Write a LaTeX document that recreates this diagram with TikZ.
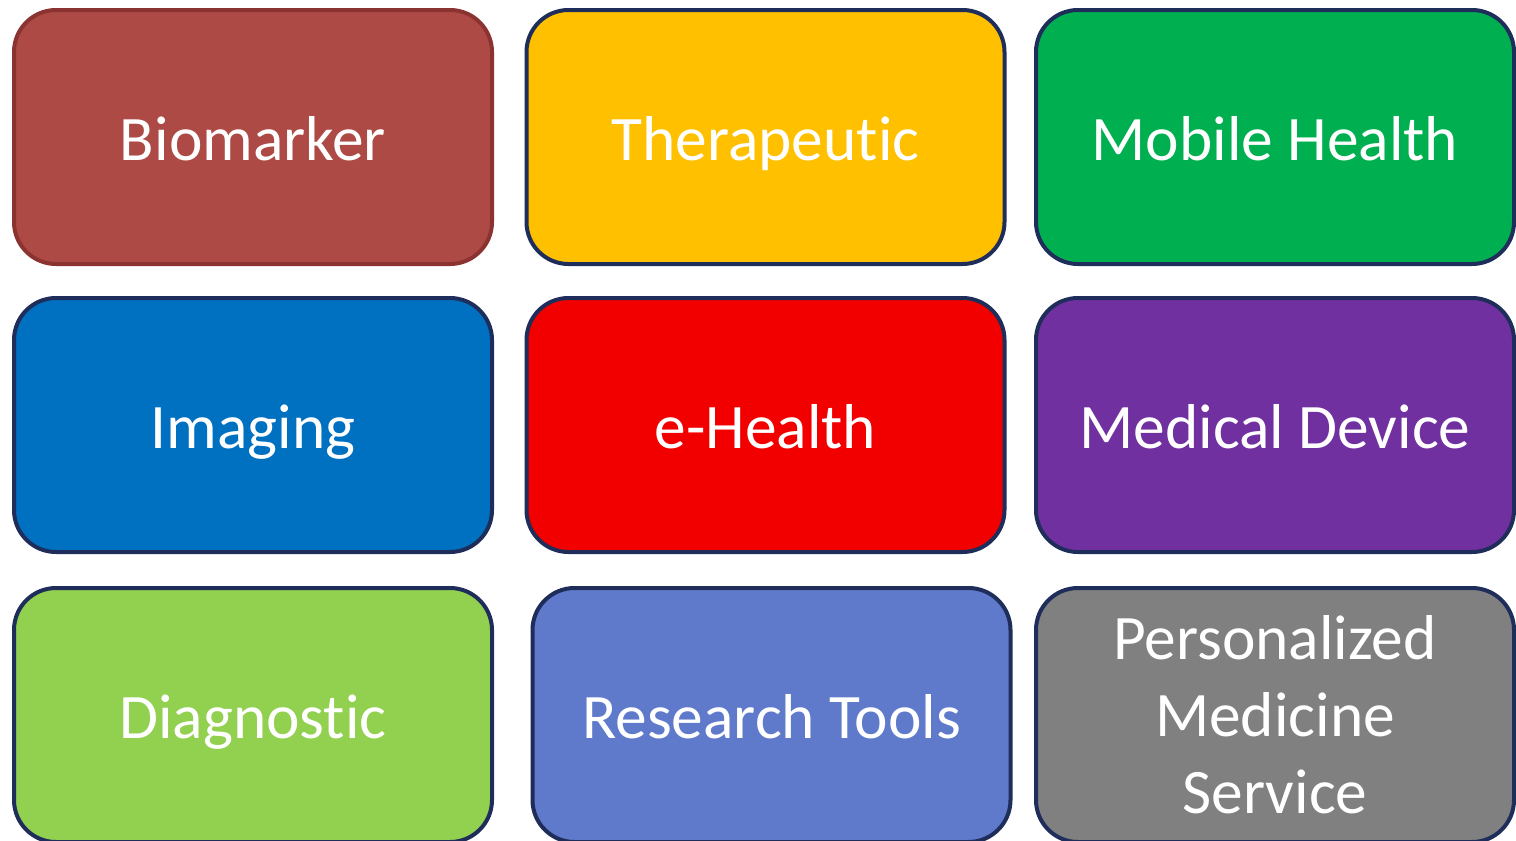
\documentclass[tikz,border=0pt]{standalone}
\usepackage{fontspec}
\setmainfont{Carlito}[Ligatures=NoCommon]
\usetikzlibrary{positioning}

\definecolor{bioFill}{HTML}{AD4A46}
\definecolor{bioLine}{HTML}{8B3330}
\definecolor{navyLine}{HTML}{1F2D5A}
\definecolor{therFill}{HTML}{FFC000}
\definecolor{mobFill}{HTML}{00B050}
\definecolor{imgFill}{HTML}{0070C0}
\definecolor{ehFill}{HTML}{F20000}
\definecolor{devFill}{HTML}{7030A0}
\definecolor{diagFill}{HTML}{92D050}
\definecolor{resFill}{HTML}{5F7ACB}
\definecolor{persFill}{HTML}{808080}

\tikzset{
  tile/.style={draw=navyLine, line width=2pt, rounded corners=21pt,
    minimum width=239pt, minimum height=127pt, inner sep=0pt,
    text=white, align=center,
    font=\fontsize{31.7}{38.5}\selectfont},
  oneline/.style={tile, text height=28pt, text depth=5pt},
}

\begin{document}
\begin{tikzpicture}[x=0.5pt, y=-0.5pt]
        \useasboundingbox (0,0) rectangle (1516,841);
        % first row
        \node[oneline, fill=bioFill, draw=bioLine] (biomarker) at (253,137) {Biomarker};
        \node[oneline, fill=therFill] (therapeutic) at (765.5,137) {Therapeutic};
        \node[oneline, fill=mobFill] (mobile) at (1275,137) {Mobile Health};
        % second row
        \node[oneline, fill=imgFill] (imaging) at (253,425) {Imaging};
        \node[oneline, fill=ehFill] (ehealth) at (765.5,425) {e-Health};
        \node[oneline, fill=devFill] (device) at (1275,425) {Medical Device};
        % third row
        \node[oneline, fill=diagFill] (diagnostic) at (253,715) {Diagnostic};
        \node[oneline, fill=resFill] (research) at (771.5,715) {Research Tools};
        \node[tile, fill=persFill] (personal) at (1275,715) {Personalized\\Medicine\\Service};
    \end{tikzpicture}
\end{document}
